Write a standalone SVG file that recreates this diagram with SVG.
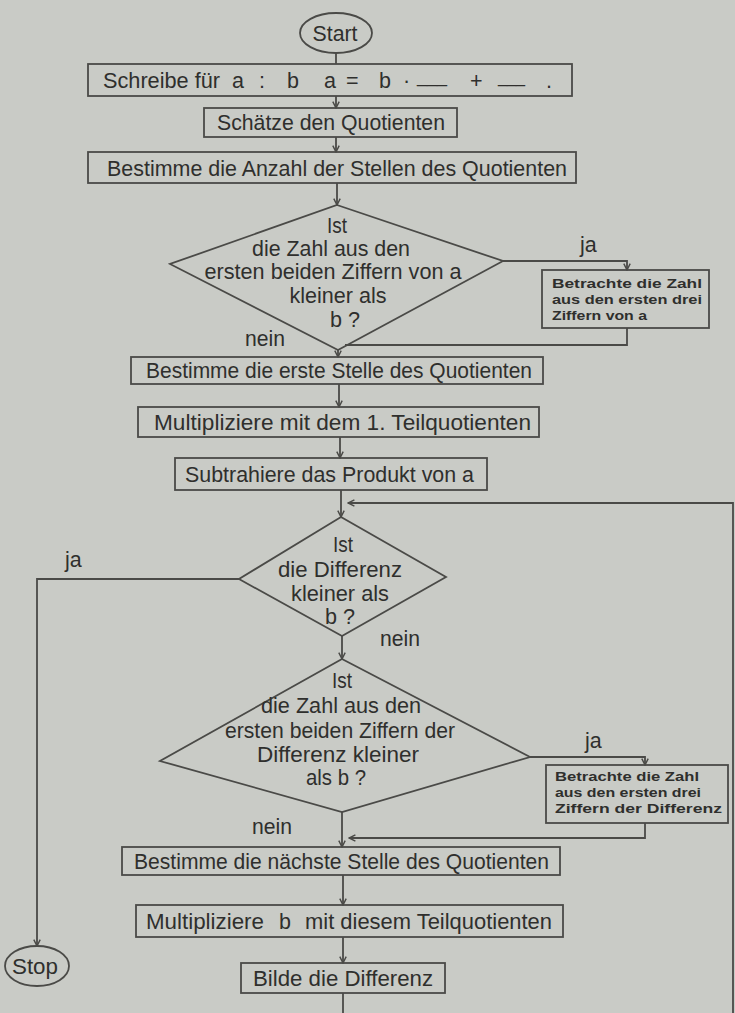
<svg xmlns="http://www.w3.org/2000/svg" width="735" height="1013" viewBox="0 0 735 1013">
<defs>
<style>
.bg{fill:#c9cbc6}
.n{fill:none;stroke:#4a4a47;stroke-width:1.8}
.c{fill:none;stroke:#4a4a47;stroke-width:1.8}
.t{font-family:"Liberation Sans",Arial,sans-serif;font-size:21.5px;fill:#2f2f2d}
.s{font-family:"Liberation Sans",Arial,sans-serif;font-size:13.5px;font-weight:bold;fill:#2f2f2d}
.m{text-anchor:middle}
</style>
<marker id="ah" viewBox="0 0 10 10" refX="9" refY="5" markerWidth="8" markerHeight="8" orient="auto" markerUnits="userSpaceOnUse">
<path d="M1,1 L9,5 L1,9" fill="none" stroke="#4a4a47" stroke-width="1.8"/>
</marker>
</defs>
<rect class="bg" width="735" height="1013"/>
<g id="connectors">
<path class="c" d="M336,53 V64"/>
<path class="c" d="M336,96 V108" marker-end="url(#ah)"/>
<path class="c" d="M336,137 V152" marker-end="url(#ah)"/>
<path class="c" d="M337,183 V205" marker-end="url(#ah)"/>
<path class="c" d="M503,261 H627 V270" marker-end="url(#ah)"/>
<path class="c" d="M627,328 V345 H345"/>
<path class="c" d="M338,350 V357" marker-end="url(#ah)"/>
<path class="c" d="M339,384 V407" marker-end="url(#ah)"/>
<path class="c" d="M340,437 V458" marker-end="url(#ah)"/>
<path class="c" d="M341,490 V517" marker-end="url(#ah)"/>
<path class="c" d="M733,1013 V503 H348" marker-end="url(#ah)"/>
<path class="c" d="M239,579 H37 V946" marker-end="url(#ah)"/>
<path class="c" d="M342,636 V659" marker-end="url(#ah)"/>
<path class="c" d="M530,757 H645 V765" marker-end="url(#ah)"/>
<path class="c" d="M645,823 V838 H349" marker-end="url(#ah)"/>
<path class="c" d="M342,812 V847" marker-end="url(#ah)"/>
<path class="c" d="M343,875 V905" marker-end="url(#ah)"/>
<path class="c" d="M343,937 V963" marker-end="url(#ah)"/>
<path class="c" d="M343,993 V1013"/>
</g>
<g id="labels">
<text class="t" x="580" y="252">ja</text>
<text class="t" x="245" y="346" textLength="40" lengthAdjust="spacingAndGlyphs">nein</text>
<text class="t" x="65" y="567">ja</text>
<text class="t" x="380" y="646" textLength="40" lengthAdjust="spacingAndGlyphs">nein</text>
<text class="t" x="585" y="748">ja</text>
<text class="t" x="252" y="834" textLength="40" lengthAdjust="spacingAndGlyphs">nein</text>
</g>
<g id="start">
<ellipse class="n" cx="336" cy="33" rx="36" ry="20"/>
<text class="t m" x="335" y="41" textLength="45" lengthAdjust="spacingAndGlyphs">Start</text>
</g>
<g id="schreibe">
<rect class="n" x="88" y="64" width="484" height="32"/>
<text class="t" y="88"><tspan x="103" textLength="117" lengthAdjust="spacingAndGlyphs">Schreibe für</tspan><tspan x="232">a</tspan><tspan x="259">:</tspan><tspan x="287">b</tspan><tspan x="324">a</tspan><tspan x="346">=</tspan><tspan x="379">b</tspan><tspan x="403">·</tspan><tspan x="470">+</tspan><tspan x="546">.</tspan></text>
<text class="t" y="82"><tspan x="417" textLength="30" lengthAdjust="spacingAndGlyphs">___</tspan><tspan x="498" textLength="27" lengthAdjust="spacingAndGlyphs">___</tspan></text>
</g>
<g id="schaetze">
<rect class="n" x="204" y="108" width="253" height="29"/>
<text class="t" x="217" y="130" textLength="228" lengthAdjust="spacingAndGlyphs">Schätze den Quotienten</text>
</g>
<g id="anzahl">
<rect class="n" x="88" y="152" width="488" height="31"/>
<text class="t" x="107" y="176" textLength="460" lengthAdjust="spacingAndGlyphs">Bestimme die Anzahl der Stellen des Quotienten</text>
</g>
<g id="frage1">
<polygon class="n" points="337,205 503,261 338,350 170,264"/>
<text class="t m" x="337" y="233" textLength="20" lengthAdjust="spacingAndGlyphs">Ist</text>
<text class="t m" x="331" y="256" textLength="158" lengthAdjust="spacingAndGlyphs">die Zahl aus den</text>
<text class="t m" x="333" y="279" textLength="257" lengthAdjust="spacingAndGlyphs">ersten beiden Ziffern von a</text>
<text class="t m" x="338" y="303" textLength="97" lengthAdjust="spacingAndGlyphs">kleiner als</text>
<text class="t m" x="345" y="327" textLength="30" lengthAdjust="spacingAndGlyphs">b ?</text>
</g>
<g id="drei1">
<rect class="n" x="542" y="270" width="167" height="58"/>
<text class="s" x="552" y="288" textLength="150" lengthAdjust="spacingAndGlyphs">Betrachte die Zahl</text>
<text class="s" x="552" y="304" textLength="150" lengthAdjust="spacingAndGlyphs">aus den ersten drei</text>
<text class="s" x="552" y="320" textLength="95" lengthAdjust="spacingAndGlyphs">Ziffern von a</text>
</g>
<g id="erste">
<rect class="n" x="131" y="357" width="412" height="27"/>
<text class="t" x="146" y="378" textLength="386" lengthAdjust="spacingAndGlyphs">Bestimme die erste Stelle des Quotienten</text>
</g>
<g id="mult1">
<rect class="n" x="138" y="407" width="401" height="30"/>
<text class="t" x="154" y="430" textLength="377" lengthAdjust="spacingAndGlyphs">Multipliziere mit dem 1. Teilquotienten</text>
</g>
<g id="subtr">
<rect class="n" x="175" y="458" width="312" height="32"/>
<text class="t" x="185" y="482" textLength="289" lengthAdjust="spacingAndGlyphs">Subtrahiere das Produkt von a</text>
</g>
<g id="frage2">
<polygon class="n" points="341,517 446,577 342,636 239,579"/>
<text class="t m" x="343" y="552" textLength="20" lengthAdjust="spacingAndGlyphs">Ist</text>
<text class="t m" x="340" y="577" textLength="124" lengthAdjust="spacingAndGlyphs">die Differenz</text>
<text class="t m" x="340" y="601" textLength="98" lengthAdjust="spacingAndGlyphs">kleiner als</text>
<text class="t m" x="340" y="624" textLength="30" lengthAdjust="spacingAndGlyphs">b ?</text>
</g>
<g id="stop">
<ellipse class="n" cx="37" cy="966" rx="32" ry="20"/>
<text class="t m" x="35" y="974" textLength="46" lengthAdjust="spacingAndGlyphs">Stop</text>
</g>
<g id="frage3">
<polygon class="n" points="342,659 530,757 342,812 160,761"/>
<text class="t m" x="342" y="688" textLength="20" lengthAdjust="spacingAndGlyphs">Ist</text>
<text class="t m" x="341" y="713" textLength="160" lengthAdjust="spacingAndGlyphs">die Zahl aus den</text>
<text class="t m" x="340" y="738" textLength="230" lengthAdjust="spacingAndGlyphs">ersten beiden Ziffern der</text>
<text class="t m" x="338" y="762" textLength="162" lengthAdjust="spacingAndGlyphs">Differenz kleiner</text>
<text class="t m" x="336" y="785" textLength="60" lengthAdjust="spacingAndGlyphs">als b ?</text>
</g>
<g id="drei2">
<rect class="n" x="546" y="765" width="182" height="58"/>
<text class="s" x="555" y="781" textLength="144" lengthAdjust="spacingAndGlyphs">Betrachte die Zahl</text>
<text class="s" x="555" y="797" textLength="146" lengthAdjust="spacingAndGlyphs">aus den ersten drei</text>
<text class="s" x="555" y="813" textLength="167" lengthAdjust="spacingAndGlyphs">Ziffern der Differenz</text>
</g>
<g id="naechste">
<rect class="n" x="122" y="847" width="438" height="28"/>
<text class="t" x="134" y="869" textLength="415" lengthAdjust="spacingAndGlyphs">Bestimme die nächste Stelle des Quotienten</text>
</g>
<g id="mult2">
<rect class="n" x="136" y="905" width="427" height="32"/>
<text class="t" y="929"><tspan x="146" textLength="118" lengthAdjust="spacingAndGlyphs">Multipliziere</tspan><tspan x="279">b</tspan><tspan x="305" textLength="247" lengthAdjust="spacingAndGlyphs">mit diesem Teilquotienten</tspan></text>
</g>
<g id="differenz">
<rect class="n" x="241" y="963" width="204" height="30"/>
<text class="t" x="253" y="986" textLength="180" lengthAdjust="spacingAndGlyphs">Bilde die Differenz</text>
</g>
</svg>
